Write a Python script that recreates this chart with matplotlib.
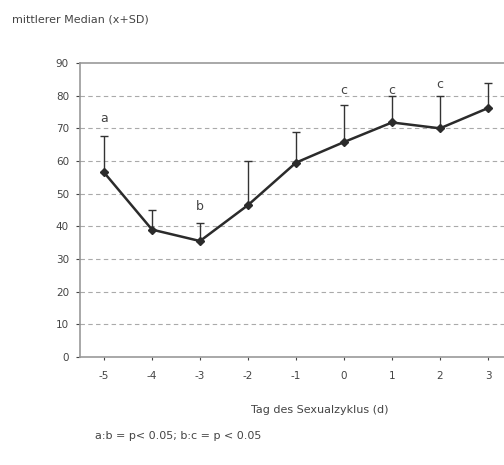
import matplotlib
matplotlib.use("Agg")
import matplotlib.pyplot as plt
import numpy as np

# data
days = [-5, -4, -3, -2, -1, 0, 1, 2, 3]
median = [56.5, 39.0, 35.5, 46.5, 59.5, 65.8, 71.8, 70.0, 76.2]
upper = [67.5, 45.0, 41.0, 60.0, 69.0, 77.0, 79.8, 79.8, 84.0]
sig_days = [-5, -3, 0, 1, 2]
sig_letters = ["a", "b", "c", "c", "c"]
sig_y = [73.0, 46.0, 81.5, 81.5, 83.5]
yticks = [0, 10, 20, 30, 40, 50, 60, 70, 80, 90]

med = np.array(median)
sd = np.array(upper) - med

fig = plt.figure(figsize=(5.04, 4.65), dpi=100)
ax = fig.add_axes([80 / 504, 108 / 465, 432 / 504, 294 / 465])

txt = "#444444"

for y in yticks[1:-1]:
    ax.axhline(y, color="#aaaaaa", lw=0.8, ls=(0, (4, 3)), zorder=0)

ax.errorbar(days, med, yerr=[np.zeros_like(sd), sd], fmt="none",
            ecolor="#333333", elinewidth=1.0, capsize=3, capthick=1.0, zorder=2)
ax.plot(days, med, "-D", color="#2b2b2b", lw=1.8, markersize=4.5, zorder=3)

for d, s, y in zip(sig_days, sig_letters, sig_y):
    ax.text(d, y, s, ha="center", va="center", fontsize=9, color=txt)

ax.set_xlim(-5.5, 3.5)
ax.set_ylim(0, 90)
ax.set_yticks(yticks)
ax.set_xticks(days)
ax.set_xticklabels([str(d) for d in days])
ax.tick_params(axis="both", labelsize=7.5, colors=txt, length=3, width=0.8)
ax.tick_params(axis="x", pad=8, length=2)
ax.tick_params(axis="y", pad=5)

for side in ["left", "bottom", "top"]:
    ax.spines[side].set_color("#999999")
    ax.spines[side].set_linewidth(1.2)
ax.spines["right"].set_visible(False)

fig.text(12 / 504, 1 - 20 / 465, "mittlerer Median (x+SD)", fontsize=8,
         color=txt, ha="left", va="center")
fig.text(320 / 504, 1 - 410 / 465, "Tag des Sexualzyklus (d)", fontsize=8,
         color=txt, ha="center", va="center")
fig.text(95 / 504, 1 - 436 / 465, "a:b = p< 0.05; b:c = p < 0.05", fontsize=8,
         color=txt, ha="left", va="center")

fig.savefig("out.png", dpi=100)
